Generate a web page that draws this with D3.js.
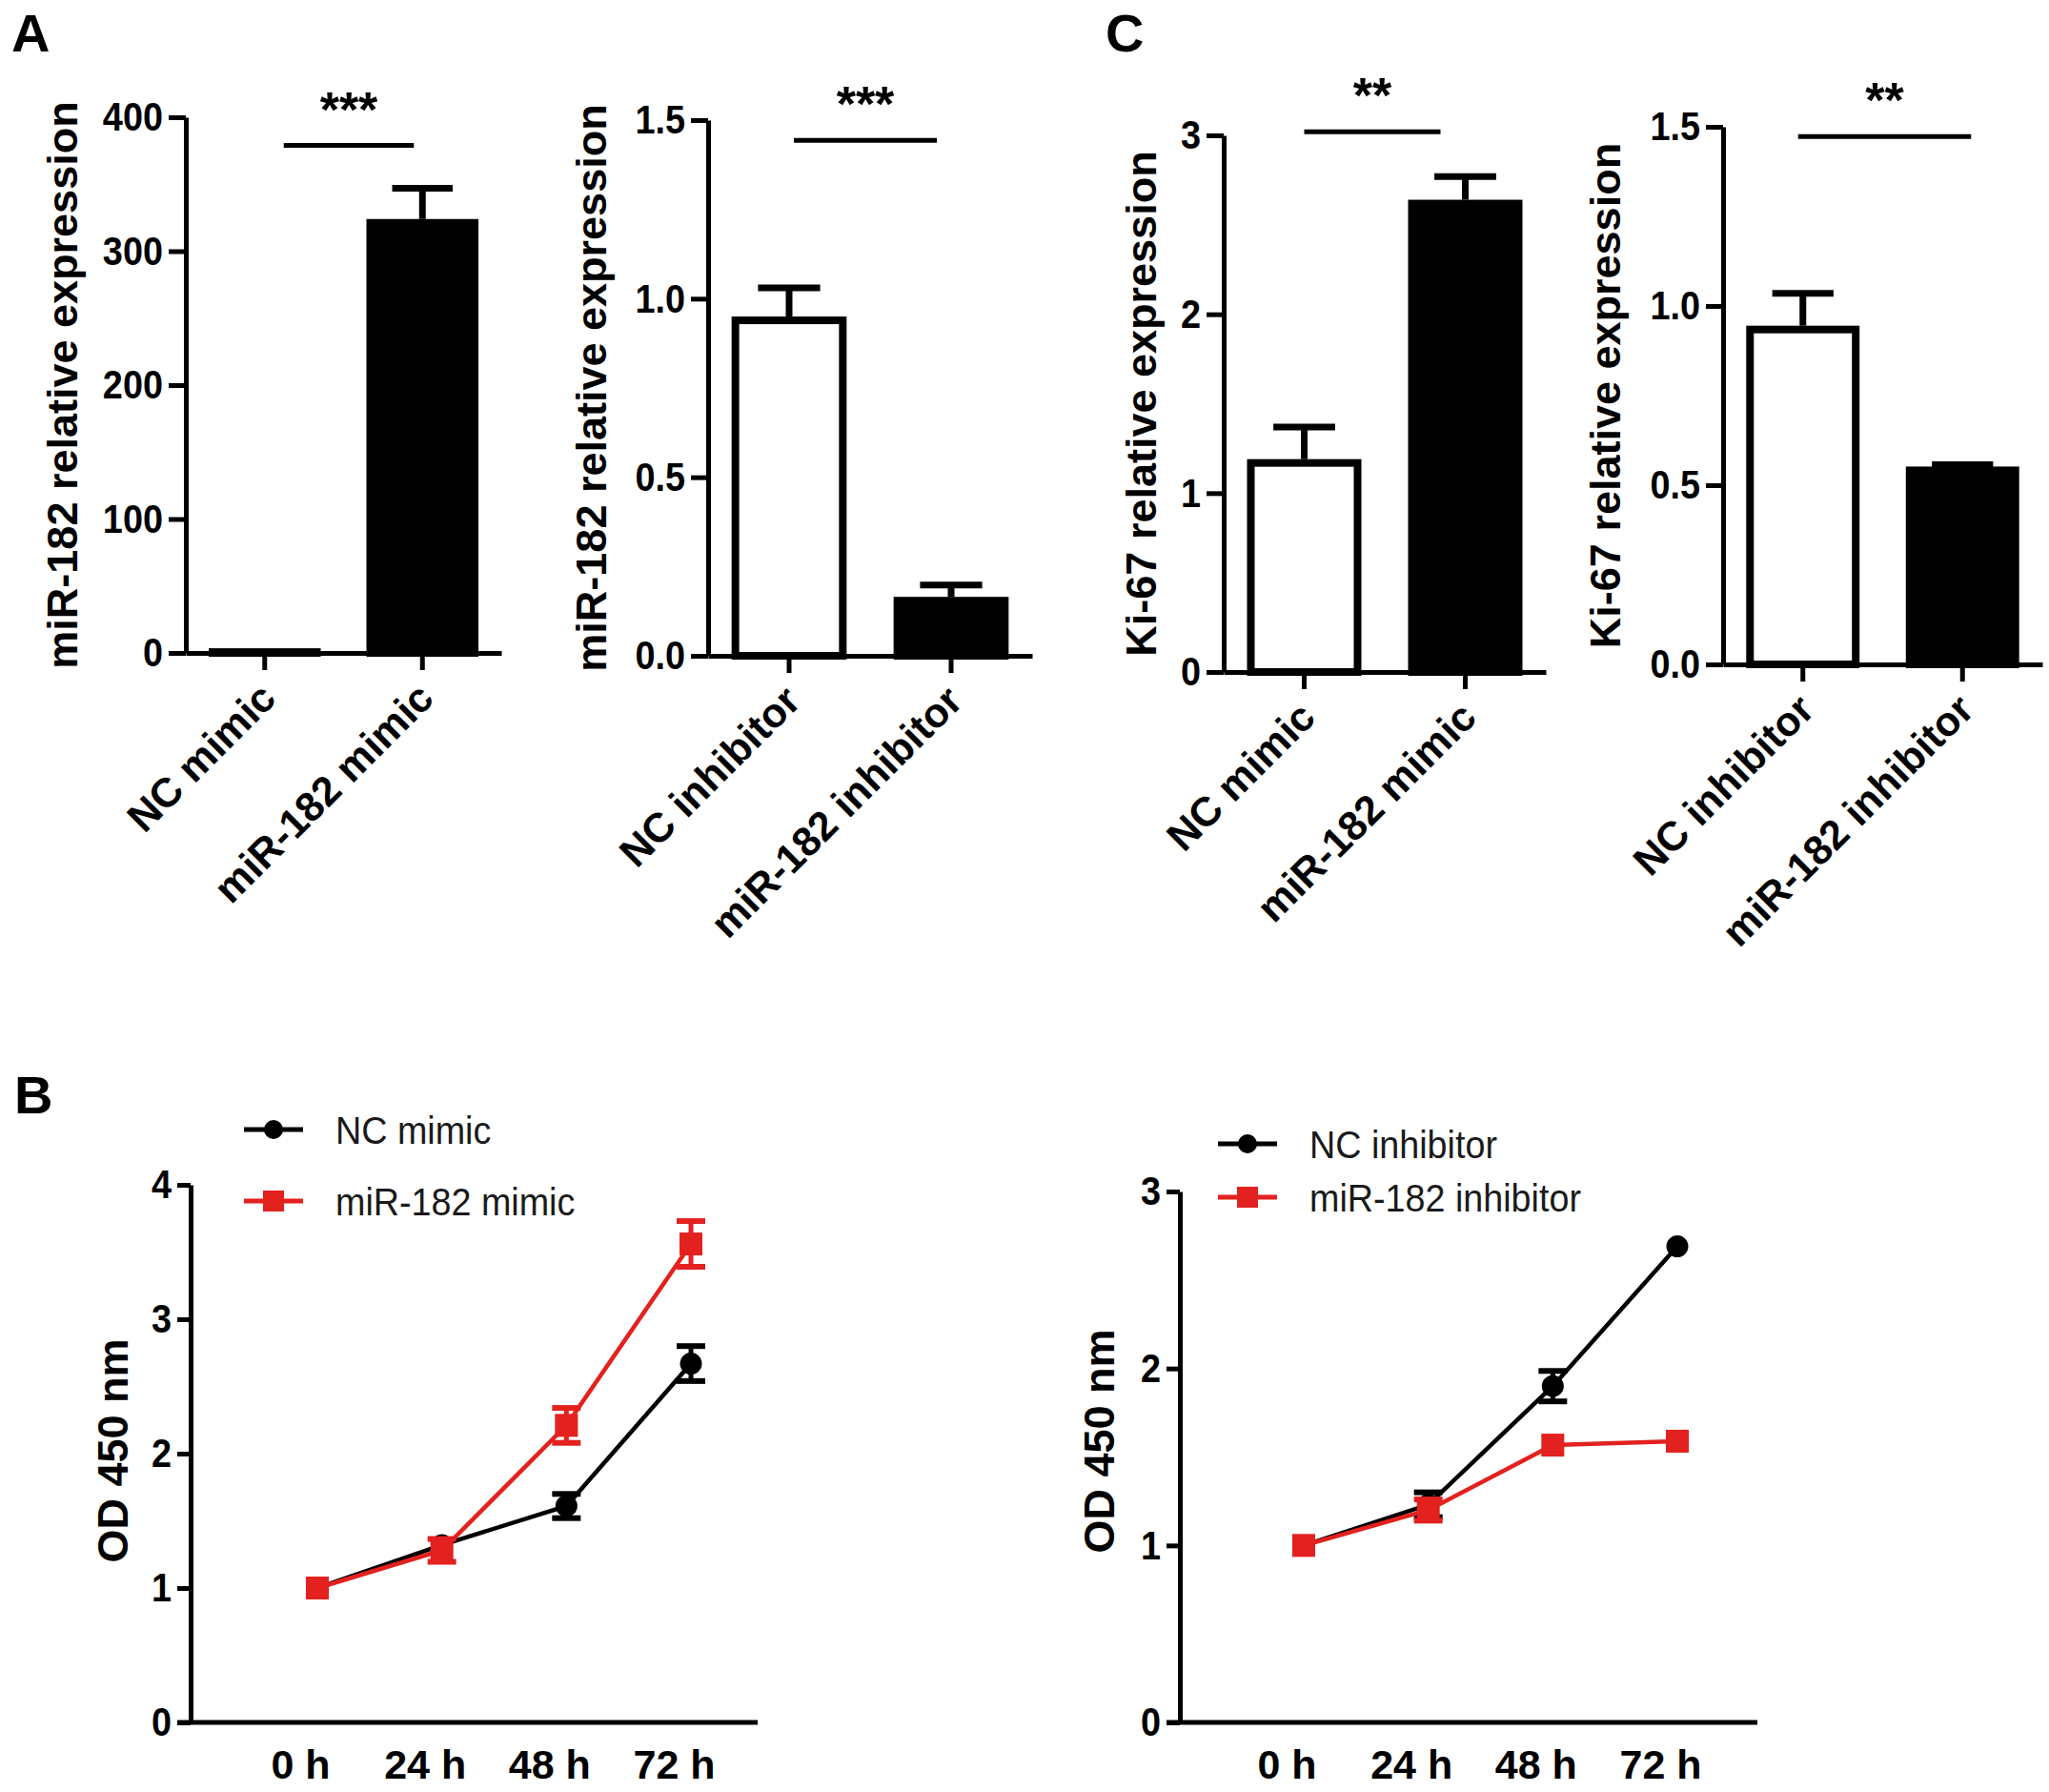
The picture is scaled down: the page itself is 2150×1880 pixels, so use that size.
<!DOCTYPE html>
<html lang="en">
<head>
	<meta charset="utf-8">
	<title>miR-182 panels</title>
	<script src="https://d3js.org/d3.v7.min.js" charset="utf-8"></script>
	<style>
		body {
		    margin: 0;
		    background: #fff;
		}
		text {
		    font-family: "Liberation Sans", Arial, sans-serif;
		}
		.axis path,
		.axis line {
		    stroke: #000;
		    stroke-width: 5px;
		    fill: none;
		}
		.axis text {
		    font-size: 43px;
		    font-weight: bold;
		    fill: #000;
		}
		.ytitle {
		    font-size: 45px;
		    font-weight: bold;
		}
		.cat {
		    font-size: 43px;
		    font-weight: bold;
		}
		.legend text {
		    font-size: 41px;
		    fill: #1a1a1a;
		}
		.panel {
		    font-size: 56px;
		    font-weight: bold;
		}
	</style>
</head>
<body>
<script>

	// ---- data ----
	var mimicGroups = ["NC mimic", "miR-182 mimic"];
	var inhibitorGroups = ["NC inhibitor", "miR-182 inhibitor"];

	// A: miR-182 relative expression
	var mirMimicMean = [3.5, 324];
	var mirMimicErr = [0, 23];
	var mirInhMean = [0.95, 0.165];
	var mirInhErr = [0.08, 0.033];

	// C: Ki-67 relative expression
	var kiMimicMean = [1.19, 2.64];
	var kiMimicErr = [0.18, 0.13];
	var kiInhMean = [0.945, 0.552];
	var kiInhErr = [0.09, 0.005];

	// significance marks
	var sigMarks = ["***", "***", "**", "**"];
	var sigLevels = [379, 1.443, 3.02, 1.473];

	// B: CCK-8, OD 450 nm
	var timeLabels = ["0 h", "24 h", "48 h", "72 h"];
	var ncMimicOD = [1.0, 1.32, 1.61, 2.67];
	var ncMimicODErr = [0.02, 0.04, 0.09, 0.13];
	var mirMimicOD = [1.0, 1.28, 2.21, 3.56];
	var mirMimicODErr = [0.02, 0.085, 0.13, 0.17];
	var ncInhOD = [1.0, 1.23, 1.9, 2.69];
	var ncInhODErr = [0.02, 0.07, 0.086, 0.02];
	var mirInhOD = [1.0, 1.2, 1.567, 1.589];
	var mirInhODErr = [0.02, 0.06, 0.02, 0.02];

	var red = "#e3211f";

	var width = 2150, height = 1880;

	var svg = d3.select("body")
	    .append("svg")
	    .attr("width", width)
	    .attr("height", height);

	// panel letters
	svg.append("text").attr("class", "panel").attr("x", 12).attr("y", 54).text("A");
	svg.append("text").attr("class", "panel").attr("x", 1160).attr("y", 54).text("C");
	svg.append("text").attr("class", "panel").attr("x", 15).attr("y", 1168).text("B");

	// horizontally narrowed text, like the source figure
	function narrow(sel, k) {
	    sel.each(function() {
	        var t = d3.select(this);
	        var x = +t.attr("x") || 0;
	        t.attr("x", x / k).attr("transform", "scale(" + k + ",1)");
	    });
	}


	function barChart(o) {
	    var g = svg.append("g");

	    var x = d3.scaleBand()
	        .domain(o.cats)
	        .range([o.x0, o.x1])
	        .paddingInner(0.29)
	        .paddingOuter(0.145);
	    var y = d3.scaleLinear()
	        .domain([0, o.max])
	        .range([o.y0, o.yTop]);
	    var bw = x.bandwidth();

	    // bars
	    g.selectAll("rect.bar")
	        .data(o.means)
	        .enter()
	        .append("rect")
	        .attr("class", "bar")
	        .attr("x", function(d, i) { return x(o.cats[i]) + 4; })
	        .attr("width", bw - 8)
	        .attr("y", function(d) { return y(d) + 4; })
	        .attr("height", function(d) { return Math.max(0, o.y0 - y(d) - 4); })
	        .attr("fill", function(d, i) { return i == 0 ? "#fff" : "#000"; })
	        .attr("stroke", "#000")
	        .attr("stroke-width", 8);

	    // error bars (upper only), hidden when inside the bar outline
	    var eb = g.selectAll("g.err")
	        .data(o.means.filter(function(d, i) { return y(d) - y(d + o.errs[i]) > 1; }))
	        .enter()
	        .append("g");
	    var idx = function(d) { return o.means.indexOf(d); };
	    eb.append("line")
	        .attr("x1", function(d) { return x(o.cats[idx(d)]) + bw / 2; })
	        .attr("x2", function(d) { return x(o.cats[idx(d)]) + bw / 2; })
	        .attr("y1", function(d) { return y(d); })
	        .attr("y2", function(d) { return y(d + o.errs[idx(d)]); })
	        .attr("stroke", "#000")
	        .attr("stroke-width", 7);
	    eb.append("line")
	        .attr("x1", function(d) { return x(o.cats[idx(d)]) + bw / 2 - bw * 0.27; })
	        .attr("x2", function(d) { return x(o.cats[idx(d)]) + bw / 2 + bw * 0.27; })
	        .attr("y1", function(d) { return y(d + o.errs[idx(d)]); })
	        .attr("y2", function(d) { return y(d + o.errs[idx(d)]); })
	        .attr("stroke", "#000")
	        .attr("stroke-width", 7);

	    // axes
	    var yAxis = d3.axisLeft(y)
	        .tickValues(o.ticks)
	        .tickFormat(d3.format(o.fmt))
	        .tickSize(18)
	        .tickSizeOuter(0)
	        .tickPadding(6);
	    var yg = g.append("g")
	        .attr("class", "axis")
	        .attr("transform", "translate(" + o.x0 + ",0)")
	        .call(yAxis);
	    narrow(yg.selectAll("text"), 0.88);

	    var xAxis = d3.axisBottom(x)
	        .tickSize(18)
	        .tickSizeOuter(0)
	        .tickFormat("");
	    g.append("g")
	        .attr("class", "axis")
	        .attr("transform", "translate(0," + o.y0 + ")")
	        .call(xAxis);

	    // rotated category labels
	    g.selectAll("text.cat")
	        .data(o.cats)
	        .enter()
	        .append("text")
	        .attr("class", "cat")
	        .attr("text-anchor", "end")
	        .attr("transform", function(d) {
	            return "translate(" + (x(d) + bw / 2 + 14) + "," + (o.y0 + 50) + ") rotate(-45)";
	        })
	        .text(function(d) { return d; });

	    // y title
	    g.append("text")
	        .attr("class", "ytitle")
	        .attr("text-anchor", "middle")
	        .attr("transform", "translate(" + (o.x0 - o.titleGap) + "," + ((o.y0 + o.yTop) / 2) + ") rotate(-90)")
	        .text(o.title);

	    // significance bar
	    var sx1 = x(o.cats[0]) + bw / 2 + o.sigIn[0];
	    var sx2 = x(o.cats[1]) + bw / 2 + o.sigIn[1];
	    g.append("line")
	        .attr("x1", sx1).attr("x2", sx2)
	        .attr("y1", y(o.sigLevel)).attr("y2", y(o.sigLevel))
	        .attr("stroke", "#000")
	        .attr("stroke-width", 5);
	    g.append("text")
	        .attr("x", (sx1 + sx2) / 2)
	        .attr("y", y(o.sigLevel) - 20)
	        .attr("text-anchor", "middle")
	        .style("font-size", "52px")
	        .style("font-weight", "bold")
	        .text(o.sig);
	}

	barChart({
	    cats: mimicGroups, means: mirMimicMean, errs: mirMimicErr,
	    x0: 195, x1: 526, y0: 685, yTop: 123, max: 400,
	    ticks: [0, 100, 200, 300, 400], fmt: "d",
	    title: "miR-182 relative expression", titleGap: 114,
	    sig: sigMarks[0], sigLevel: sigLevels[0], sigIn: [20, -9]
	});
	barChart({
	    cats: inhibitorGroups, means: mirInhMean, errs: mirInhErr,
	    x0: 743, x1: 1083, y0: 688, yTop: 126, max: 1.5,
	    ticks: [0, 0.5, 1.0, 1.5], fmt: ".1f",
	    title: "miR-182 relative expression", titleGap: 107,
	    sig: sigMarks[1], sigLevel: sigLevels[1], sigIn: [5, -15]
	});
	barChart({
	    cats: mimicGroups, means: kiMimicMean, errs: kiMimicErr,
	    x0: 1284, x1: 1622, y0: 705, yTop: 142, max: 3,
	    ticks: [0, 1, 2, 3], fmt: "d",
	    title: "Ki-67 relative expression", titleGap: 71,
	    sig: sigMarks[2], sigLevel: sigLevels[2], sigIn: [0, -26]
	});
	barChart({
	    cats: inhibitorGroups, means: kiInhMean, errs: kiInhErr,
	    x0: 1808, x1: 2143, y0: 697, yTop: 133, max: 1.5,
	    ticks: [0, 0.5, 1.0, 1.5], fmt: ".1f",
	    title: "Ki-67 relative expression", titleGap: 108,
	    sig: sigMarks[3], sigLevel: sigLevels[3], sigIn: [-5, 9]
	});


	function lineChart(o) {
	    var g = svg.append("g");

	    var x = d3.scalePoint()
	        .domain(timeLabels)
	        .range([o.xFirst, o.xLast]);
	    var y = d3.scaleLinear()
	        .domain([0, o.max])
	        .range([o.y0, o.yTop]);

	    var yAxis = d3.axisLeft(y)
	        .ticks(o.max)
	        .tickFormat(d3.format("d"))
	        .tickSize(14)
	        .tickSizeOuter(0)
	        .tickPadding(6);
	    var yg = g.append("g")
	        .attr("class", "axis")
	        .attr("transform", "translate(" + o.x0 + ",0)")
	        .call(yAxis);
	    narrow(yg.selectAll("text"), 0.88);

	    // x axis: plain baseline, labels only
	    g.append("line")
	        .attr("x1", o.x0 - 14).attr("x2", o.x1)
	        .attr("y1", o.y0).attr("y2", o.y0)
	        .attr("stroke", "#000")
	        .attr("stroke-width", 5);
	    var xAxis = d3.axisBottom(x).tickSize(0).tickPadding(28);
	    var xg = g.append("g")
	        .attr("class", "axis")
	        .attr("transform", "translate(-18," + o.y0 + ")")
	        .call(xAxis);
	    xg.select(".domain").remove();

	    g.append("text")
	        .attr("class", "ytitle")
	        .attr("text-anchor", "middle")
	        .attr("transform", "translate(" + (o.x0 - o.titleGap) + "," + o.titleY + ") rotate(-90)")
	        .text("OD 450 nm");

	    var line = d3.line()
	        .x(function(d, i) { return x(timeLabels[i]); })
	        .y(function(d) { return y(d); });

	    o.series.forEach(function(s) {
	        var sg = g.append("g");
	        sg.append("path")
	            .datum(s.values)
	            .attr("d", line)
	            .attr("fill", "none")
	            .attr("stroke", s.color)
	            .attr("stroke-width", 4.5);

	        // error bars only where they reach beyond the marker
	        var pts = s.values.map(function(d, i) { return { t: timeLabels[i], v: d, e: s.errs[i] }; })
	            .filter(function(p) { return y(p.v) - y(p.v + p.e) > 9; });
	        var e = sg.selectAll("g.e")
	            .data(pts)
	            .enter()
	            .append("g");
	        e.append("line")
	            .attr("x1", function(p) { return x(p.t); })
	            .attr("x2", function(p) { return x(p.t); })
	            .attr("y1", function(p) { return y(p.v - p.e); })
	            .attr("y2", function(p) { return y(p.v + p.e); })
	            .attr("stroke", s.color)
	            .attr("stroke-width", 5);
	        [-1, 1].forEach(function(sign) {
	            e.append("line")
	                .attr("x1", function(p) { return x(p.t) - 15; })
	                .attr("x2", function(p) { return x(p.t) + 15; })
	                .attr("y1", function(p) { return y(p.v + sign * p.e); })
	                .attr("y2", function(p) { return y(p.v + sign * p.e); })
	                .attr("stroke", s.color)
	                .attr("stroke-width", 6);
	        });

	        if (s.shape == "circle") {
	            sg.selectAll("circle")
	                .data(s.values)
	                .enter()
	                .append("circle")
	                .attr("cx", function(d, i) { return x(timeLabels[i]); })
	                .attr("cy", function(d) { return y(d); })
	                .attr("r", 11.5)
	                .attr("fill", s.color);
	        } else {
	            sg.selectAll("rect")
	                .data(s.values)
	                .enter()
	                .append("rect")
	                .attr("x", function(d, i) { return x(timeLabels[i]) - 12; })
	                .attr("y", function(d) { return y(d) - 12; })
	                .attr("width", 24)
	                .attr("height", 24)
	                .attr("fill", s.color);
	        }
	    });

	    // legend
	    var lg = g.append("g").attr("class", "legend");
	    o.series.forEach(function(s, i) {
	        var ly = o.legY[i];
	        lg.append("line")
	            .attr("x1", o.legX).attr("x2", o.legX + 62)
	            .attr("y1", ly).attr("y2", ly)
	            .attr("stroke", s.color)
	            .attr("stroke-width", 5);
	        if (s.shape == "circle") {
	            lg.append("circle").attr("cx", o.legX + 31).attr("cy", ly).attr("r", 10).attr("fill", s.color);
	        } else {
	            lg.append("rect").attr("x", o.legX + 20).attr("y", ly - 11).attr("width", 22).attr("height", 22).attr("fill", s.color);
	        }
	        var lt = lg.append("text")
	            .attr("x", o.legX + 96)
	            .attr("y", ly + 15)
	            .text(s.name);
	        narrow(lt, 0.92);
	    });
	}

	lineChart({
	    x0: 200, x1: 795, xFirst: 333, xLast: 725,
	    y0: 1807, yTop: 1243, max: 4,
	    titleGap: 66, titleY: 1522,
	    legX: 256, legY: [1185, 1260],
	    series: [
	        { name: mimicGroups[0], values: ncMimicOD, errs: ncMimicODErr, color: "#000", shape: "circle" },
	        { name: mimicGroups[1], values: mirMimicOD, errs: mirMimicODErr, color: red, shape: "square" }
	    ]
	});
	lineChart({
	    x0: 1238, x1: 1844, xFirst: 1368, xLast: 1760,
	    y0: 1807, yTop: 1250, max: 3,
	    titleGap: 69, titleY: 1512,
	    legX: 1278, legY: [1200, 1256],
	    series: [
	        { name: inhibitorGroups[0], values: ncInhOD, errs: ncInhODErr, color: "#000", shape: "circle" },
	        { name: inhibitorGroups[1], values: mirInhOD, errs: mirInhODErr, color: red, shape: "square" }
	    ]
	});

</script>
</body>
</html>
